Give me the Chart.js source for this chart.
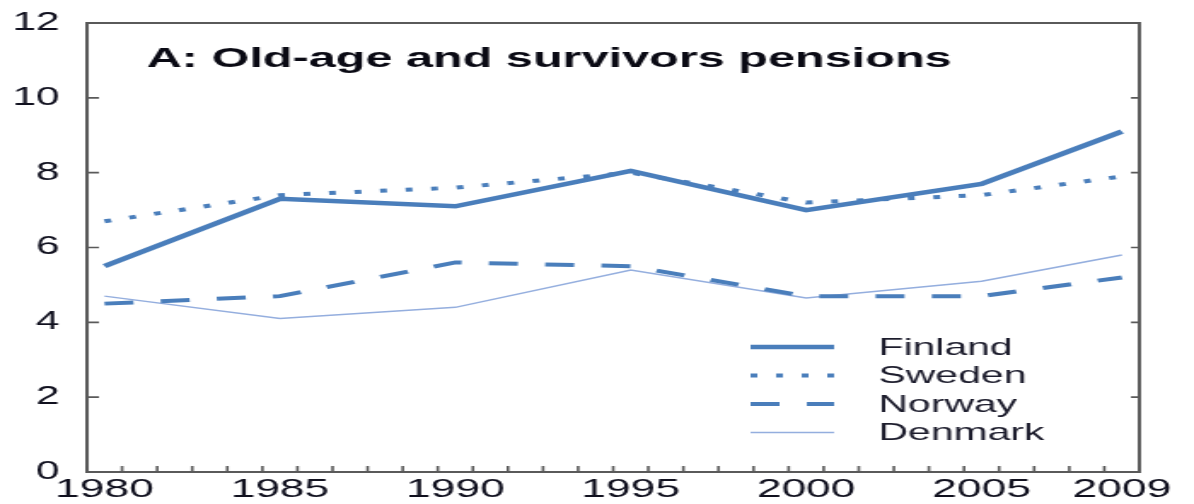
<!DOCTYPE html>
<html>
<head>
<meta charset="utf-8">
<script src="https://cdn.jsdelivr.net/npm/chart.js@4"></script>
<style>
  html, body { margin: 0; padding: 0; background: #fff; overflow: hidden; }
  #wrap { width: 700px; height: 504px; transform: scale(1.7057, 1); transform-origin: 0 0; }
</style>
</head>
<body>
<div id="wrap"><canvas id="chart" width="700" height="504"></canvas></div>
<script>
// years shown on the axis (one category per year)
const allYears = [];
for (let y = 1980; y <= 2009; y++) allYears.push(String(y));
const labelYears = ['1980', '1985', '1990', '1995', '2000', '2005', '2009'];

const dataYears = ['1980', '1985', '1990', '1995', '2000', '2005', '2009'];
const finland = [5.5, 7.3, 7.1, 8.05, 7.0, 7.7, 9.1];
const sweden  = [6.7, 7.4, 7.6, 8.0, 7.2, 7.4, 7.9];
const norway  = [4.5, 4.7, 5.6, 5.5, 4.7, 4.7, 5.2];
const denmark = [4.7, 4.1, 4.4, 5.4, 4.65, 5.1, 5.8];

const yTicks = [0, 2, 4, 6, 8, 10, 12];
const title = 'A: Old-age and survivors pensions';

const blue = '#4a7ebb';
const lightBlue = '#94aede';

function pts(vals) {
  return dataYears.map((y, i) => ({ x: y, y: vals[i] }));
}

const framePlugin = {
  id: 'frame',
  afterDraw(chart) {
    const ctx = chart.ctx;
    const ca = chart.chartArea;
    const xs = chart.scales.x;
    const ys = chart.scales.y;
    ctx.save();
    ctx.strokeStyle = '#5a5a5a';
    ctx.lineWidth = 2;
    ctx.strokeRect(ca.left, ca.top, ca.right - ca.left, ca.bottom - ca.top);
    ctx.lineWidth = 1.6;
    ctx.beginPath();
    yTicks.forEach(v => {
      const y = ys.getPixelForValue(v);
      ctx.moveTo(ca.left, y); ctx.lineTo(ca.left + 7, y);
      ctx.moveTo(ca.right, y); ctx.lineTo(ca.right - 5, y);
    });
    for (let i = 0; i <= allYears.length; i++) {
      const x = xs.getPixelForValue(i - 0.5);
      ctx.moveTo(x, ca.bottom); ctx.lineTo(x, ca.bottom - 6);
    }
    ctx.stroke();

    // title
    ctx.fillStyle = '#0a0a14';
    ctx.font = 'bold 28.5px "Liberation Sans", Arial, sans-serif';
    ctx.textBaseline = 'alphabetic';
    ctx.textAlign = 'left';
    ctx.fillText(title, 86, 67);

    // legend
    ctx.font = '24px "Liberation Sans", Arial, sans-serif';
    ctx.textBaseline = 'middle';
    chart.data.datasets.forEach((ds, i) => {
      const y = 347 + i * 28.5;
      ctx.strokeStyle = ds.borderColor;
      ctx.lineWidth = ds.borderWidth;
      ctx.setLineDash(ds.borderDash || []);
      ctx.beginPath();
      ctx.moveTo(440, y); ctx.lineTo(489, y);
      ctx.stroke();
      ctx.setLineDash([]);
      ctx.fillStyle = '#1c1c2c';
      ctx.fillText(ds.label, 515, y + 1);
    });
    ctx.restore();
  }
};

new Chart(document.getElementById('chart'), {
  type: 'line',
  data: {
    labels: allYears,
    datasets: [
      { label: 'Finland', data: pts(finland), borderColor: blue, borderWidth: 4.5 },
      { label: 'Sweden', data: pts(sweden), borderColor: blue, borderWidth: 4, borderDash: [4, 11] },
      { label: 'Norway', data: pts(norway), borderColor: blue, borderWidth: 4, borderDash: [17, 16] },
      { label: 'Denmark', data: pts(denmark), borderColor: lightBlue, borderWidth: 1.5 }
    ]
  },
  options: {
    responsive: false,
    devicePixelRatio: 1,
    animation: false,
    layout: { padding: { left: 4, right: 32, top: 23, bottom: 0 } },
    elements: { point: { radius: 0 }, line: { tension: 0 } },
    plugins: { legend: { display: false }, tooltip: { enabled: false } },
    scales: {
      x: {
        type: 'category',
        offset: true,
        grid: { display: false, drawTicks: false },
        border: { display: false },
        afterFit: s => { s.height = 32; s.paddingLeft = 0; s.paddingRight = 0; },
        ticks: {
          autoSkip: false,
          maxRotation: 0,
          minRotation: 0,
          padding: 2,
          color: '#10101e',
          font: { family: '"Liberation Sans", Arial, sans-serif', size: 26, lineHeight: 1.2 },
          callback: function (v, i) {
            const l = allYears[i];
            return labelYears.includes(l) ? l : '';
          }
        }
      },
      y: {
        min: 0,
        max: 12,
        afterBuildTicks: s => { s.ticks = yTicks.map(v => ({ value: v })); },
        grid: { display: false, drawTicks: false },
        border: { display: false },
        afterFit: s => { s.width = 47; s.paddingTop = 0; s.paddingBottom = 0; },
        ticks: {
          padding: 16,
          color: '#10101e',
          font: { family: '"Liberation Sans", Arial, sans-serif', size: 25 }
        }
      }
    }
  },
  plugins: [framePlugin]
});
</script>
</body>
</html>
